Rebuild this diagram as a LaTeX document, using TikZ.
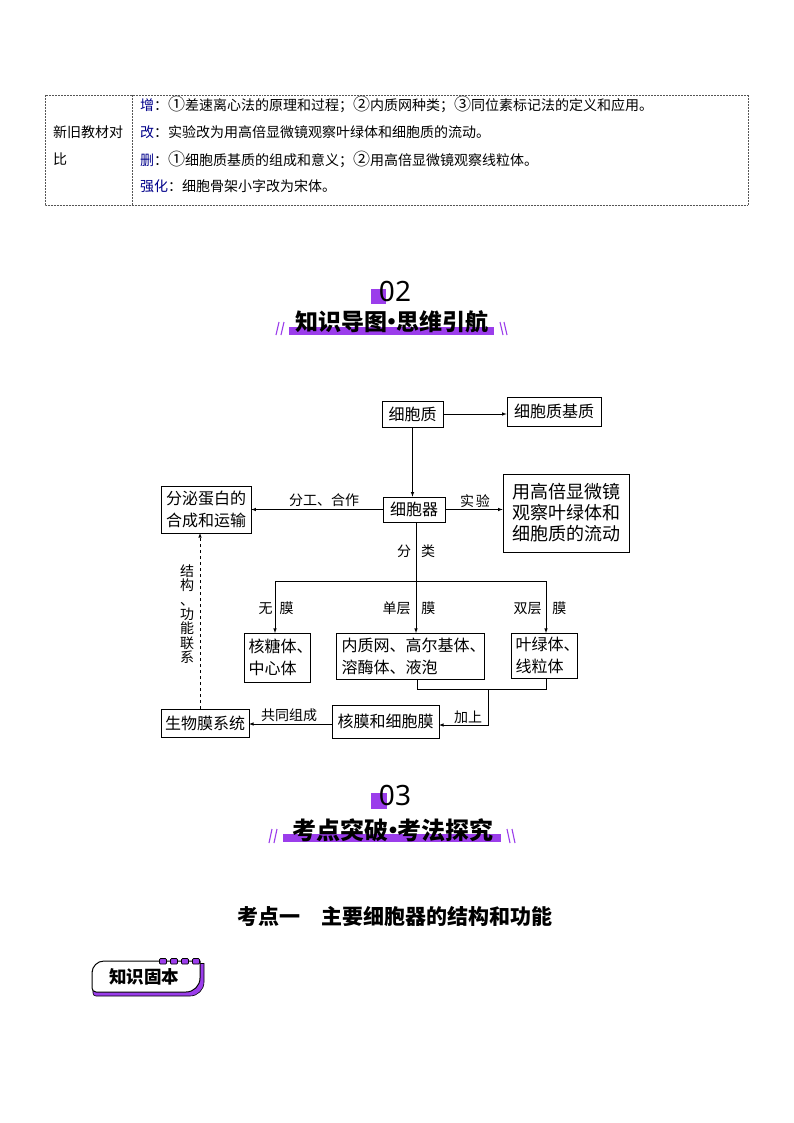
\documentclass[tikz,border=0pt]{standalone}
\usepackage{fontspec}
\setmainfont{Noto Sans CJK SC}
\setsansfont{Noto Sans}
\definecolor{headpurple}{HTML}{9B3DEB}
\definecolor{labelblue}{HTML}{00008B}
\definecolor{tablegray}{HTML}{555555}
\newcommand{\bignum}[1]{{\fontsize{17}{14}\selectfont #1}}
\newcommand{\headdot}{\hspace{-0.3em}·\hspace{-0.3em}}
\newcommand{\halfcomma}{、\hspace*{-7pt}\mbox{}}
\tikzset{
    mapbox/.style={draw, line width=0.7pt, inner sep=0pt, align=center, font=\fontsize{16}{22}\selectfont},
    maplabel/.style={inner sep=0pt, font=\fontsize{14}{14}\selectfont},
    rowtext/.style={anchor=west, inner sep=0pt, font=\fontsize{14}{14}\selectfont},
    arrowline/.style={-latex, line width=0.6pt},
    plainline/.style={-, line width=0.6pt},
    tableline/.style={densely dotted, tablegray, line width=0.5pt},
    headtitle/.style={inner sep=0pt, font=\fontsize{23}{23}\selectfont\bfseries},
    headnum/.style={inner sep=0pt, font=\sffamily\fontsize{28}{28}\selectfont},
    headslash/.style={-, headpurple, line width=1.1pt}
}
\begin{document}
\begin{tikzpicture}[x=1pt,y=-1pt]
        \useasboundingbox[fill=white] (0,0) rectangle (794,1123);

        % table
        \draw[tableline] (45,95) rectangle (748,205);
        \draw[tableline] (132,95) -- (132,205);
        \node[rowtext] (oldnew1) at (53,132) {新旧教材对};
        \node[rowtext] (oldnew2) at (53,159) {比};
        \node[rowtext] (rowadd) at (140,104) {\textcolor{labelblue}{增}：\bignum{①}差速离心法的原理和过程；\bignum{②}内质网种类；\bignum{③}同位素标记法的定义和应用。};
        \node[rowtext] (rowchange) at (140,132) {\textcolor{labelblue}{改}：实验改为用高倍显微镜观察叶绿体和细胞质的流动。};
        \node[rowtext] (rowdel) at (140,159) {\textcolor{labelblue}{删}：\bignum{①}细胞质基质的组成和意义；\bignum{②}用高倍显微镜观察线粒体。};
        \node[rowtext] (rowstrong) at (140,186) {\textcolor{labelblue}{强化}：细胞骨架小字改为宋体。};

        % heading 02
        \fill[headpurple] (371,289) rectangle (386,304);
        \node[headnum] (numtwo) at (395,291) {02};
        \fill[headpurple] (289,327) rectangle (494,335);
        \node[headtitle] (titletwo) at (392,322) {知识导图\headdot 思维引航};
        \draw[headslash] (279,322) -- (276,335);
        \draw[headslash] (284,322) -- (281,335);
        \draw[headslash] (500,322) -- (503,335);
        \draw[headslash] (504,322) -- (507,335);

        % map boxes
        \node[mapbox, minimum width=61pt, minimum height=26pt] (cyto) at (412.5,414) {细胞质};
        \node[mapbox, minimum width=94pt, minimum height=29pt] (matrix) at (554,411.5) {细胞质基质};
        \node[mapbox, minimum width=62pt, minimum height=25pt] (organelle) at (414,509.5) {细胞器};
        \node[mapbox, minimum width=126pt, minimum height=78pt, font=\fontsize{18}{21}\selectfont] (micro) at (566,513) {用高倍显微镜\\观察叶绿体和\\细胞质的流动};
        \node[mapbox, minimum width=90pt, minimum height=47pt] (secrete) at (206,509.5) {分泌蛋白的\\合成和运输};
        \node[mapbox, align=left, minimum width=66pt, minimum height=49pt] (nomem) at (277,657.5) {核糖体\halfcomma\\中心体};
        \node[mapbox, align=left, minimum width=148pt, minimum height=46pt] (single) at (410,656) {内质网、高尔基体\halfcomma\\溶酶体、液泡};
        \node[mapbox, align=left, minimum width=66pt, minimum height=45pt] (double) at (544,655.5) {叶绿体\halfcomma\\线粒体};
        \node[mapbox, minimum width=107pt, minimum height=33pt] (nucmem) at (385.5,721.5) {核膜和细胞膜};
        \node[mapbox, minimum width=88pt, minimum height=28pt] (biomem) at (205,723) {生物膜系统};

        % free ends of the branches
        \coordinate (stemtop) at (416,522);
        \coordinate (branchleft) at (275,581);
        \coordinate (branchright) at (546,581);
        \coordinate (nomemin) at (275,633);
        \coordinate (singlein) at (416,633);
        \coordinate (doublein) at (546,633);
        \coordinate (singleout) at (417,679);
        \coordinate (doubleout) at (546,678);
        \coordinate (joinleft) at (417,689);
        \coordinate (joinright) at (546,689);
        \coordinate (joinmid) at (488,689);
        \coordinate (joinbend) at (488,725);
        \coordinate (nucin) at (439,725);
        \coordinate (nucout) at (332,724);
        \coordinate (bioin) at (249,724);
        \coordinate (bioup) at (200,709);
        \coordinate (secretein) at (200,533);

        \draw[arrowline] (cyto.east) -- (cyto.east -| matrix.west);
        \draw[arrowline] (cyto) -- (cyto |- organelle.north);
        \draw[arrowline] (organelle.west) -- (secrete.east |- organelle.west);
        \draw[arrowline] (organelle.east) -- (micro.west |- organelle.east);
        \draw[arrowline] (stemtop) -- (singlein);
        \draw[plainline] (branchleft) -- (branchright);
        \draw[arrowline] (branchleft) -- (nomemin);
        \draw[arrowline] (branchright) -- (doublein);
        \draw[plainline] (singleout) -- (joinleft) -- (joinright) -- (doubleout);
        \draw[arrowline] (joinmid) -- (joinbend) -- (nucin);
        \draw[arrowline] (nucout) -- (bioin);
        \draw[arrowline, dashed] (bioup) -- (secretein);

        % labels
        \node[maplabel] (lbwork) at (324,500) {分工、合作};
        \node[maplabel] (lbtest) at (475,501) {实\hspace{2pt}验};
        \node[maplabel] (lbkind) at (416,551) {分\hspace{10pt}类};
        \node[maplabel] (lbno) at (276,608) {无\hspace{7pt}膜};
        \node[maplabel] (lbsingle) at (409,608) {单层\hspace{11pt}膜};
        \node[maplabel] (lbdouble) at (540,608) {双层\hspace{11pt}膜};
        \node[maplabel] (lbcompose) at (289,715) {共同组成};
        \node[maplabel] (lbplus) at (468,717) {加上};
        \node[maplabel, align=center, font=\fontsize{14}{14.3}\selectfont] (lbrelate) at (187,614) {结\\构\\、\\功\\能\\联\\系};

        % heading 03
        \fill[headpurple] (371,793) rectangle (387,809);
        \node[headnum] (numthree) at (395,795) {03};
        \fill[headpurple] (283,834) rectangle (501,842);
        \node[headtitle, font=\fontsize{24}{24}\selectfont\bfseries] (titlethree) at (393,830) {考点突破\headdot 考法探究};
        \draw[headslash] (272,829) -- (269,843);
        \draw[headslash] (277,829) -- (274,843);
        \draw[headslash] (507,829) -- (510,843);
        \draw[headslash] (512,829) -- (515,843);

        \node[inner sep=0pt, font=\fontsize{21}{21}\selectfont\bfseries] (pointone) at (395,916) {考点一\hspace{21pt}主要细胞器的结构和功能};

        % badge
        \draw[fill=headpurple, line width=0.6pt] (93,985) [rounded corners=3pt] -- (93,996) [rounded corners=14pt] -- (204,996) [sharp corners] -- (204,963.5) -- (195,963.5) -- cycle;
        \draw[fill=white, line width=1pt] (92,975) [rounded corners=12pt] -- (92,961) [sharp corners] -- (200,961) [rounded corners=14pt] -- (200,992) [rounded corners=4pt] -- (92,992) -- cycle;
        \foreach \x in {163,174,185,196}
            \draw[fill=headpurple, line width=0.7pt, rounded corners=1pt] (\x-3.5,958.5) rectangle (\x+3.5,964);
        \node[inner sep=0pt, font=\fontsize{17.5}{18}\selectfont\bfseries] (badge) at (144,977) {知识固本};
    \end{tikzpicture}
\end{document}
